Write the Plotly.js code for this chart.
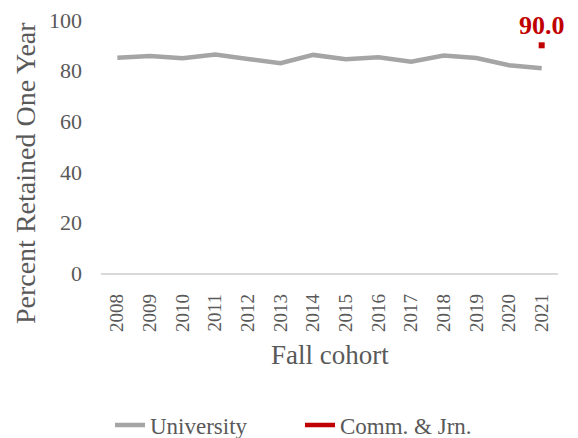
<!DOCTYPE html>
<html><head><meta charset="utf-8">
<script src="https://cdn.plot.ly/plotly-3.0.1.min.js"></script>
<style>html,body{margin:0;padding:0;background:#fff}#c{width:578px;height:438px}</style>
</head><body><div id="c"></div>
<script>
var years = ["2008","2009","2010","2011","2012","2013","2014","2015","2016","2017","2018","2019","2020","2021"];
var university = [85.1,85.8,84.9,86.4,84.6,82.9,86.2,84.5,85.3,83.5,86.0,85.0,82.1,80.9];
var commYears = ["2021"];
var commValues = [90.0];
var yTicks = [0,20,40,60,80,100];

var font = "'Liberation Serif','Times New Roman',serif";
var traces = [
  {x: years, y: university, type:'scatter', mode:'lines', name:'University',
   line:{color:'#A5A5A5', width:4.5}},
  {x: commYears, y: commValues, type:'scatter', mode:'markers+text', name:'Comm. & Jrn.',
   showlegend:false, cliponaxis:false,
   marker:{symbol:'square', size:6, color:'#C00000'},
   text: commValues.map(function(v){return '<b>'+v.toFixed(1)+'</b>';}),
   textposition:'top center',
   textfont:{family:font, size:26, color:'#C00000'}},
  {x: [null], y: [null], type:'scatter', mode:'lines', name:'Comm. & Jrn.',
   line:{color:'#C00000', width:4.5}}
];
var layout = {
  width:578, height:438,
  margin:{l:101, r:20, t:20, b:165, autoexpand:false},
  paper_bgcolor:'#fff', plot_bgcolor:'#fff',
  font:{family:font, color:'#595959', size:18},
  showlegend:true,
  legend:{orientation:'h', x:110/578, xref:'container', xanchor:'left', y:13/438, yref:'container', yanchor:'middle',
          font:{family:font, size:23, color:'#595959'}, tracegroupgap:0, entrywidth:145, entrywidthmode:'pixels'},
  xaxis:{type:'category', categoryorder:'array', categoryarray:years,
         range:[-0.5,13.5], showgrid:false, zeroline:false,
         showline:true, linecolor:'#D9D9D9', linewidth:1.5,
         tickangle:-90, tickfont:{family:font, size:19, color:'#595959'}, ticks:'', ticklabelstandoff:12},
  yaxis:{range:[0,100], tickvals:yTicks, showgrid:false, zeroline:false, showline:false,
         ticks:'', tickfont:{family:font, size:22, color:'#595959'}, ticklabelstandoff:18},
  annotations:[
    {text:'Fall cohort', xref:'paper', x:0.5, yref:'paper', y:0, yshift:-82, showarrow:false,
     yanchor:'middle', font:{family:font, size:27, color:'#595959'}},
    {text:'Percent Retained One Year', xref:'paper', x:0, xshift:-76, yref:'paper', y:0.395,
     showarrow:false, textangle:-90, xanchor:'center', yanchor:'middle',
     font:{family:font, size:28, color:'#595959'}}
  ]
};
Plotly.newPlot('c', traces, layout, {displayModeBar:false, staticPlot:true});
</script></body></html>
